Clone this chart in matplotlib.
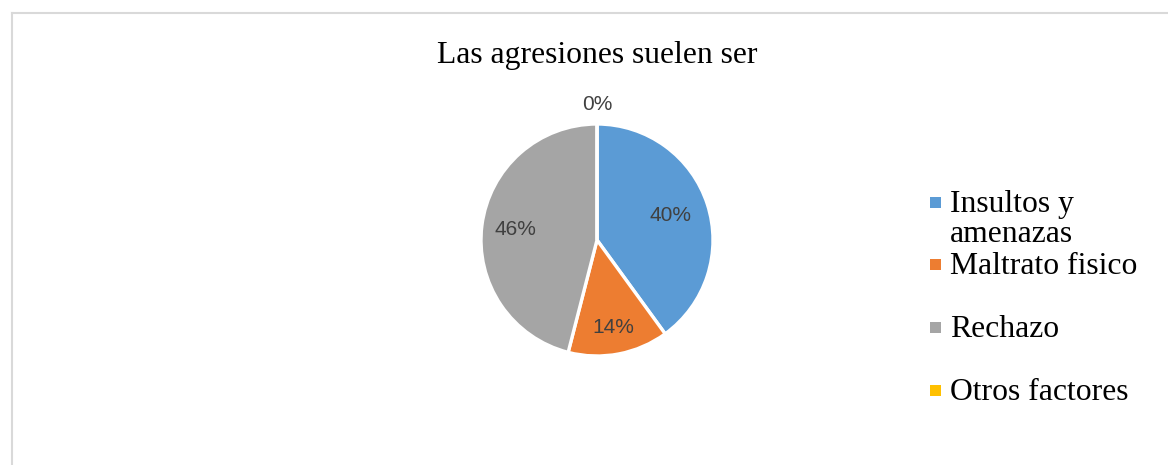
import matplotlib
matplotlib.use("Agg")
import matplotlib.pyplot as plt
from matplotlib.patches import Rectangle
import numpy as np

title = "Las agresiones suelen ser"
categories = ["Insultos y\namenazas", "Maltrato fisico", "Rechazo", "Otros factores"]
values = [40, 14, 46, 0]
colors = ["#5B9BD5", "#ED7D31", "#A5A5A5", "#FFC000"]
label_dist = [0.67, 0.77, 0.71, 1.17]

W, H = 1168, 465
fig = plt.figure(figsize=(W / 100, H / 100), dpi=100)
fig.patch.set_facecolor("white")

def fx(px):
    return px / W

def fy(py):
    return 1 - py / H

# chart frame (left and top border visible)
fig.add_artist(plt.Line2D([fx(11.5), fx(11.5)], [fy(465), fy(13)], color="#D9D9D9", lw=1.5))
fig.add_artist(plt.Line2D([fx(11.5), fx(1168)], [fy(13), fy(13)], color="#D9D9D9", lw=1.5))

fig.text(fx(597), fy(63), title, ha="center", va="baseline",
         fontsize=22.8, family="Liberation Serif", color="black")

r = 116
cx, cy = 597, 240
ax = fig.add_axes([fx(cx - r), fy(cy + r), fx(2 * r), 2 * r / H])
wedges, _ = ax.pie(values, colors=colors, startangle=90, counterclock=False,
                   radius=1, wedgeprops=dict(edgecolor="white", linewidth=2.4))
ax.set_xlim(-1, 1)
ax.set_ylim(-1, 1)
ax.set_aspect("equal")
ax.axis("off")

total = sum(values)
for w, v, d in zip(wedges, values, label_dist):
    ang = np.deg2rad((w.theta1 + w.theta2) / 2)
    ax.text(d * np.cos(ang), d * np.sin(ang), f"{round(100 * v / total)}%",
            ha="center", va="center", fontsize=15, family="Liberation Sans",
            color="#404040")

# legend
leg_x = 935
leg_y0 = 202.5
leg_step = 62.5
line_h = 30
sq = 11
for i, (lab, col) in enumerate(zip(categories, colors)):
    y = leg_y0 + i * leg_step
    fig.add_artist(Rectangle((fx(leg_x - sq / 2), fy(y + sq / 2)), fx(sq), sq / H,
                             facecolor=col, edgecolor="none"))
    for j, line in enumerate(lab.split("\n")):
        fig.text(fx(leg_x + 15), fy(y + 9.5 + j * line_h), line, ha="left",
                 va="baseline", fontsize=22.8, family="Liberation Serif",
                 color="black")

fig.savefig("out.png", dpi=100, facecolor="white")
